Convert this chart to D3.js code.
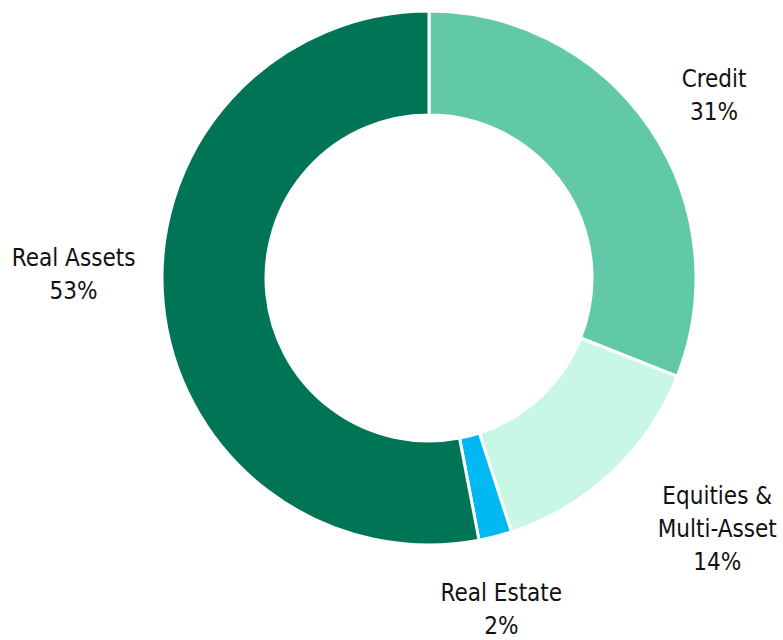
<!DOCTYPE html>
<html>
<head>
<meta charset="utf-8">
<script src="https://cdn.jsdelivr.net/npm/d3@7"></script>
<style>
  body { margin: 0; background: #fff; }
  svg text { font-family: "Liberation Sans Narrow", "DejaVu Sans Condensed", "Roboto", sans-serif; fill: #111; }
</style>
</head>
<body>
<svg width="783" height="640"></svg>
<script>
// Data
var categories = ["Credit", "Equities & Multi-Asset", "Real Estate", "Real Assets"];
var values = [31, 14, 2, 53];
var labelLines = [["Credit"], ["Equities &", "Multi-Asset"], ["Real Estate"], ["Real Assets"]];
var colors = ["#62C9A8", "#C8F7E6", "#00B9F2", "#007555"];

var svg = d3.select("svg"),
    cx = 429, cy = 278,
    outerR = 267, innerR = 163;

var g = svg.append("g").attr("transform", "translate(" + cx + "," + cy + ")");

var pie = d3.pie().sort(null).value(function(d) { return d.value; });
var arc = d3.arc().innerRadius(innerR).outerRadius(outerR);

var data = categories.map(function(c, i) {
  return { name: c, value: values[i], lines: labelLines[i], color: colors[i] };
});
var arcs = pie(data);

g.selectAll("path")
  .data(arcs)
  .enter()
  .append("path")
  .attr("d", arc)
  .attr("fill", function(d) { return d.data.color; })
  .attr("stroke", "#fff")
  .attr("stroke-width", 3);

// label placement: radius along slice mid-angle, plus small nudges
var labelR = { "Credit": 335, "Equities & Multi-Asset": 386, "Real Estate": 347, "Real Assets": 356 };
var nudge = { "Credit": [8, 5], "Equities & Multi-Asset": [24, -32], "Real Estate": [-14, -5], "Real Assets": [-1, -38] };
var lineH = 33;

arcs.forEach(function(d) {
  var a = (d.startAngle + d.endAngle) / 2;
  var r = labelR[d.data.name];
  var x = r * Math.sin(a) + nudge[d.data.name][0];
  var y = -r * Math.cos(a) + nudge[d.data.name][1];
  var lines = d.data.lines.concat([d.data.value + "%"]);
  var top = y - (lines.length - 1) * 32 / 2;
  var t = g.append("text")
    .attr("text-anchor", "middle")
    .attr("font-size", 24);
  lines.forEach(function(l, i) {
    t.append("tspan")
      .attr("x", x)
      .attr("y", top + i * lineH)
      .attr("dy", "0.35em")
      .text(l);
  });
});
</script>
</body>
</html>
